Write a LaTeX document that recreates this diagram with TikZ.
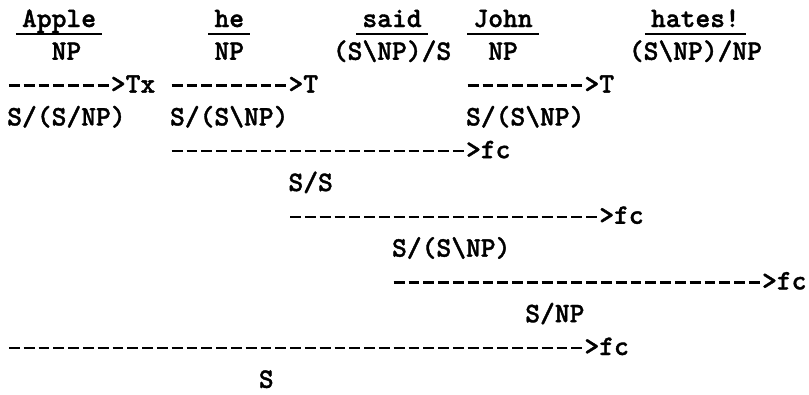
\documentclass[tikz,border=0pt]{standalone}
\usepackage{fontspec}
\newfontfamily\twfont{lmmonolt10-bold.otf}[RawFeature={embolden=1.3}]
\newcommand\cx[1]{7+14.8*#1}
\newcommand\ry[1]{27+32.8*(#1-1)}
\begin{document}
\begin{tikzpicture}[x=0.75pt,y=-0.75pt,
  tw/.style={inner sep=0pt, anchor=base west, font=\fontsize{21.14}{24}\selectfont\twfont},
  uline/.style={line width=1.6pt},
  dashline/.style={line width=1.9pt, dash pattern=on 8.2pt off 2.9pt}]
\useasboundingbox (0,0) rectangle (809,394);
% row 1: words
\node[tw] (w1) at ({\cx{1}},{\ry{1}}) {Apple};
\node[tw] (w2) at ({\cx{14}},{\ry{1}}) {he};
\node[tw] (w3) at ({\cx{24}},{\ry{1}}) {said};
\node[tw] (w4) at ({\cx{31.5}},{\ry{1}}) {John};
\node[tw] (w5) at ({\cx{43.5}},{\ry{1}}) {hates!};
\foreach \w in {w1,w2,w3,w4,w5}
  \draw[uline] ([shift={(-6,7)}]\w.base west) -- ([shift={(6,7)}]\w.base east);
% row 2: categories
\node[tw] (c1) at ({\cx{3}},{\ry{2}}) {NP};
\node[tw] (c2) at ({\cx{14}},{\ry{2}}) {NP};
\node[tw] (c3) at ({\cx{22}},{\ry{2}}) {(S\textbackslash NP)/S};
\node[tw] (c4) at ({\cx{32.5}},{\ry{2}}) {NP};
\node[tw] (c5) at ({\cx{42}},{\ry{2}}) {(S\textbackslash NP)/NP};
% row 3: type raising
\coordinate (a1s) at ({\cx{0}+1.9},{\ry{3}-7});
\node[tw] (a1) at ({\cx{7}},{\ry{3}}) {>Tx};
\coordinate (a2s) at ({\cx{11}+1.9},{\ry{3}-7});
\node[tw] (a2) at ({\cx{19}},{\ry{3}}) {>T};
\coordinate (a3s) at ({\cx{31}+1.9},{\ry{3}-7});
\node[tw] (a3) at ({\cx{39}},{\ry{3}}) {>T};
\draw[dashline] (a1s) -- (a1s -| a1.west);
\draw[dashline] (a2s) -- (a2s -| a2.west);
\draw[dashline] (a3s) -- (a3s -| a3.west);
% row 4
\node[tw] (d1) at ({\cx{0}},{\ry{4}}) {S/(S/NP)};
\node[tw] (d2) at ({\cx{11}},{\ry{4}}) {S/(S\textbackslash NP)};
\node[tw] (d3) at ({\cx{31}},{\ry{4}}) {S/(S\textbackslash NP)};
% row 5
\coordinate (e0) at ({\cx{11}+1.9},{\ry{5}-7});
\node[tw] (e1) at ({\cx{31}},{\ry{5}}) {>fc};
\draw[dashline] (e0) -- (e0 -| e1.west);
% row 6
\node[tw] (f1) at ({\cx{19}},{\ry{6}}) {S/S};
% row 7
\coordinate (g0) at ({\cx{19}+1.9},{\ry{7}-7});
\node[tw] (g1) at ({\cx{40}},{\ry{7}}) {>fc};
\draw[dashline] (g0) -- (g0 -| g1.west);
% row 8
\node[tw] (h1) at ({\cx{26}},{\ry{8}}) {S/(S\textbackslash NP)};
% row 9
\coordinate (i0) at ({\cx{26}+1.9},{\ry{9}-7});
\node[tw] (i1) at ({\cx{51}},{\ry{9}}) {>fc};
\draw[dashline] (i0) -- (i0 -| i1.west);
% row 10
\node[tw] (j1) at ({\cx{35}},{\ry{10}}) {S/NP};
% row 11
\coordinate (k0) at ({\cx{0}+1.9},{\ry{11}-7});
\node[tw] (k1) at ({\cx{39}},{\ry{11}}) {>fc};
\draw[dashline] (k0) -- (k0 -| k1.west);
% row 12
\node[tw] (l1) at ({\cx{17}},{\ry{12}}) {S};
\end{tikzpicture}
\end{document}
